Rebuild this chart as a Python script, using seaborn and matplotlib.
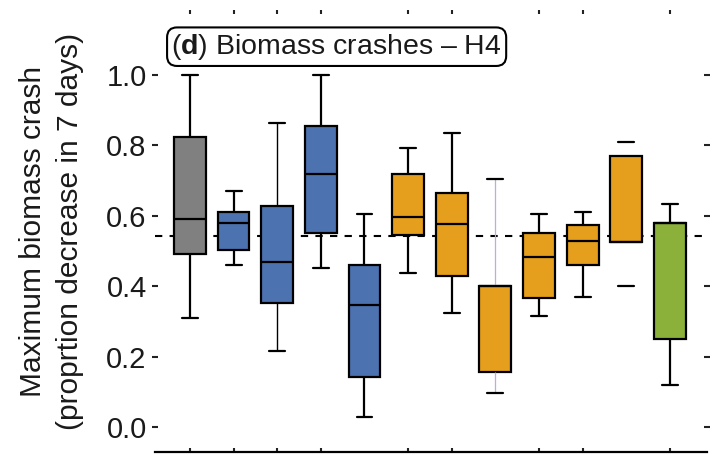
import numpy as np
import pandas as pd
import matplotlib
matplotlib.use("Agg")
import matplotlib.pyplot as plt
import seaborn as sns

# Scenario groups (left to right) and their summary statistics
groups = ["S01", "S02", "S03", "S04", "S05", "S06",
          "S07", "S08", "S09", "S10", "S11", "S12"]
whisker_low = [0.311, 0.460, 0.216, 0.453, 0.028, 0.438,
               0.323, 0.097, 0.316, 0.370, 0.401, 0.119]
q1 = [0.491, 0.503, 0.351, 0.552, 0.141, 0.545,
      0.429, 0.157, 0.367, 0.460, 0.526, 0.249]
median = [0.590, 0.581, 0.468, 0.719, 0.347, 0.598,
          0.576, 0.401, 0.484, 0.528, 0.526, 0.581]
q3 = [0.823, 0.612, 0.629, 0.855, 0.460, 0.719,
      0.666, 0.401, 0.550, 0.574, 0.771, 0.581]
whisker_high = [1.000, 0.671, 0.863, 1.000, 0.604, 0.794,
                0.836, 0.705, 0.604, 0.610, 0.809, 0.634]
reference_level = 0.543

box_colors = ["#808080",
              "#4c72b0", "#4c72b0", "#4c72b0", "#4c72b0",
              "#e69f1c", "#e69f1c", "#e69f1c", "#e69f1c", "#e69f1c", "#e69f1c",
              "#8cb13a"]

y_ticks = [0.0, 0.2, 0.4, 0.6, 0.8, 1.0]
x_tick_positions = [0, 1, 2, 3, 5, 6, 8, 9, 11]

# Long-form table: five points per group reproduce the box statistics
rows = []
for g, lo, a, m, b, hi in zip(groups, whisker_low, q1, median, q3, whisker_high):
    for v in (lo, a, m, b, hi):
        rows.append({"group": g, "value": v})
df = pd.DataFrame(rows)

sns.set_theme(style="white")
plt.rcParams["font.family"] = ["Liberation Sans", "DejaVu Sans"]
plt.rcParams["mathtext.fontset"] = "custom"
plt.rcParams["mathtext.rm"] = "Liberation Sans"
plt.rcParams["mathtext.bf"] = "Liberation Sans:bold"

fig = plt.figure(figsize=(7.17, 4.55), dpi=100)
ax = fig.add_axes([0.2162, 0.0066, 0.7699, 0.9714])

ax.axhline(reference_level, color="black", lw=1.5, ls=(0, (3.5, 3.5)), zorder=0.5)

sns.boxplot(data=df, x="group", y="value", hue="group", order=groups,
            hue_order=groups, palette=box_colors, legend=False, dodge=False,
            whis=(0, 100), width=0.73, linewidth=1.6, linecolor="black",
            saturation=1, showfliers=False, ax=ax)

# Per-group whisker styling
for line in ax.lines:
    xd = np.asarray(line.get_xdata(), dtype=float)
    yd = np.asarray(line.get_ydata(), dtype=float)
    if len(xd) == 2 and abs(xd[0] - xd[1]) < 1e-9 and abs(yd[0] - yd[1]) > 1e-9:
        idx = int(round(xd[0]))
        if idx == 10:
            line.set_visible(False)
        elif idx == 2:
            line.set_linewidth(1.0)
        elif idx == 7:
            line.set_linewidth(0.9)
            line.set_color("#b9aede")

ax.set_xlim(-0.80, 11.85)
ax.set_ylim(-0.071, 1.185)
ax.set_xticks(x_tick_positions)
ax.set_xticklabels([])
ax.set_yticks(y_ticks)
ax.set_yticklabels([f"{t:.1f}" for t in y_ticks])
ax.set_xlabel("")

ax.tick_params(axis="x", which="both", direction="in", length=3, width=1.5,
               top=True, bottom=True, labelbottom=False, color="#222222")
ax.tick_params(axis="y", which="both", direction="inout", length=4, width=1.5,
               left=True, right=True, labelsize=21, pad=4, color="#222222",
               labelcolor="#1a1a1a")

for side in ("top", "left", "right"):
    ax.spines[side].set_visible(False)
ax.spines["bottom"].set_linewidth(1.6)
ax.spines["bottom"].set_color("black")

ax.set_ylabel("Maximum biomass crash\n(proprtion decrease in 7 days)",
              fontsize=21.5, linespacing=1.4, va="center", color="#1a1a1a")
ax.yaxis.set_label_coords(-0.188, 0.5)

ax.text(0.329, 0.917, r"($\mathbf{d}$) Biomass crashes – H4",
        transform=ax.transAxes, ha="center", va="center", fontsize=20.5,
        color="#1a1a1a",
        bbox=dict(boxstyle="round,pad=0.15,rounding_size=0.35",
                  fc="white", ec="black", lw=1.5))

fig.savefig("out.png", dpi=100)
